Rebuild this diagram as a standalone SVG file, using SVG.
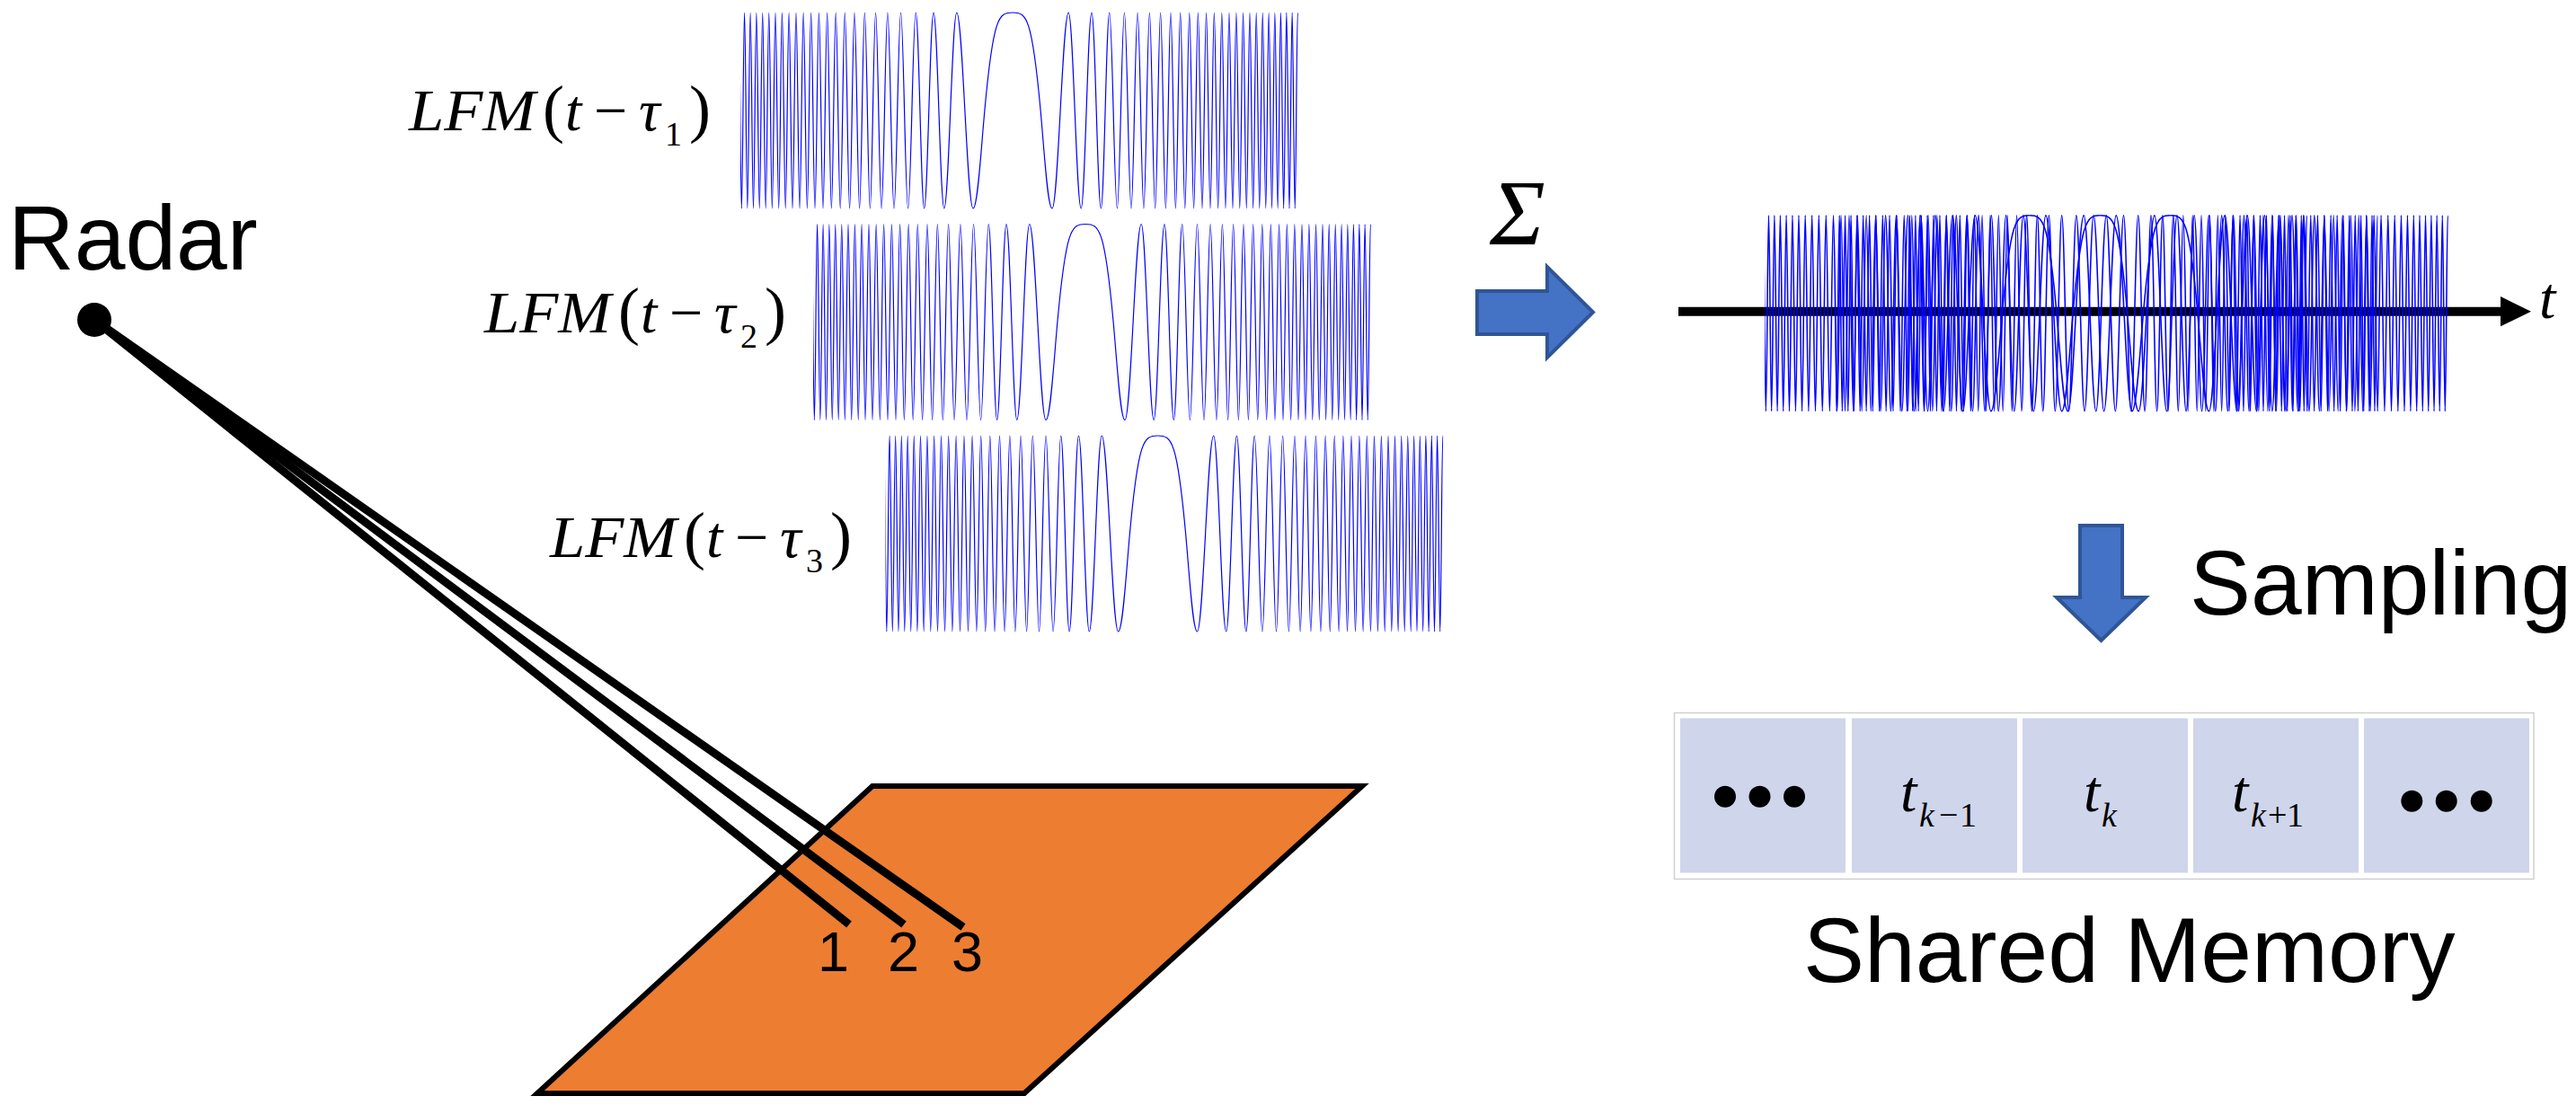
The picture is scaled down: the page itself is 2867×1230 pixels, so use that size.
<svg xmlns="http://www.w3.org/2000/svg" xmlns:xlink="http://www.w3.org/1999/xlink" width="2867" height="1230" viewBox="0 0 2867 1230">
<style>
.sans{font-family:"Liberation Sans",Arial,sans-serif;fill:#000}
.big{font-size:102px}
.dig{font-size:63px}
.it{font-family:"Liberation Serif","Times New Roman",serif;font-style:italic;font-size:66px;fill:#000}
.up{font-family:"Liberation Serif","Times New Roman",serif;font-size:66px;fill:#000}
.par{font-family:"Liberation Serif","Times New Roman",serif;font-size:72px;fill:#000}
.sub{font-family:"Liberation Serif","Times New Roman",serif;font-size:38px;fill:#000}
.tm{font-family:"Liberation Serif","Times New Roman",serif;font-style:italic;font-size:66px;fill:#000}
.tsi{font-family:"Liberation Serif","Times New Roman",serif;font-style:italic;font-size:38px;fill:#000}
.tsu{font-family:"Liberation Serif","Times New Roman",serif;font-size:38px;fill:#000}
.wave{fill:none;stroke:#0000ff}
.w1{stroke-width:1.2}
.w2{stroke-width:1.6}
.blk{fill:#4472C4;stroke:#2F5597;stroke-width:4;stroke-linejoin:miter}
.cell{fill:#CFD5EA}
.beam{stroke:#000;stroke-width:9;stroke-linecap:butt;fill:none}
</style>
<defs>
<clipPath id="cc" clipPathUnits="userSpaceOnUse"><rect x="-303" y="-120" width="621" height="240"/></clipPath>
<path id="half" class="wave" d="M0,-109 C15.5,-109 21.6,-104.5 31.11,0 C35.4,47.3 39,109 44,109 C50.64,109 55.59,-109 62.23,-109 C67.32,-109 71.12,109 76.21,109 C80.5,109 83.71,-109 88,-109 C91.78,-109 94.61,109 98.39,109 C101.81,109 104.36,-109 107.78,-109 C110.92,-109 113.27,109 116.41,109 C119.34,109 121.52,-109 124.45,-109 C127.2,-109 129.25,109 132,109 C134.6,109 136.54,-109 139.14,-109 C141.61,-109 143.46,109 145.93,109 C148.29,109 150.06,-109 152.42,-109 C154.68,-109 156.38,109 158.64,109 C160.82,109 162.45,-109 164.63,-109 C166.73,-109 168.31,109 170.41,109 C172.44,109 173.97,-109 176,-109 C177.97,-109 179.45,109 181.42,109 C183.33,109 184.77,-109 186.68,-109 C188.54,-109 189.93,109 191.79,109 C193.6,109 194.96,-109 196.77,-109 C198.54,-109 199.86,109 201.63,109 C203.36,109 204.65,-109 206.38,-109 C208.07,-109 209.33,109 211.02,109 C212.67,109 213.91,-109 215.56,-109 C217.18,-109 218.38,109 220,109 C221.59,109 222.77,-109 224.36,-109 C225.91,-109 227.08,109 228.63,109 C230.16,109 231.3,-109 232.83,-109 C234.33,-109 235.45,109 236.95,109 C238.42,109 239.53,-109 241,-109 C242.45,-109 243.53,109 244.98,109 C246.41,109 247.47,-109 248.9,-109 C250.31,-109 251.35,109 252.76,109 C254.14,109 255.18,-109 256.56,-109 C257.93,-109 258.94,109 260.31,109 C261.65,109 262.66,-109 264,-109 C265.32,-109 266.32,109 267.64,109 C268.95,109 269.92,-109 271.23,-109 C272.52,-109 273.49,109 274.78,109 C276.05,109 277.01,-109 278.28,-109 C279.54,-109 280.48,109 281.74,109 C282.98,109 283.91,-109 285.15,-109 C286.38,-109 287.3,109 288.53,109 C289.74,109 290.65,-109 291.86,-109 C293.06,-109 293.96,109 295.16,109 C296.35,109 297.23,-109 298.42,-109 C299.6,-109 300.47,109 301.65,109 C302.81,109 303.69,-109 304.85,-109 C306,-109 306.85,109 308,109 C309.14,109 309.99,-109 311.13,-109 C312.26,-109 313.1,109 314.23,109 C315.35,109 316.18,-109 317.3,-109"/>
<g id="chirp"><g clip-path="url(#cc)"><use xlink:href="#half" href="#half"/><use xlink:href="#half" href="#half" transform="scale(-1,1)"/></g></g>
</defs>
<rect x="0" y="0" width="2867" height="1230" fill="#fff"/>

<g id="target">
<polygon points="971,875 1516,875 1140,1217 598,1217" fill="#ED7D31" stroke="#000" stroke-width="6" stroke-linejoin="miter"/>
</g>

<g id="connectors">
<line class="beam" x1="105" y1="356" x2="945" y2="1029"/>
<line class="beam" x1="105" y1="356" x2="1006" y2="1029"/>
<line class="beam" x1="105" y1="356" x2="1072" y2="1032"/>
</g>

<g id="radar">
<circle cx="105" cy="356" r="19" fill="#000"/>
<text class="sans big" x="9" y="300">Radar</text>
</g>

<g id="target-labels">
<text class="sans dig" x="910" y="1081">1</text>
<text class="sans dig" x="988" y="1081">2</text>
<text class="sans dig" x="1059" y="1081">3</text>
</g>

<g id="lfm1">
<g transform="translate(456,145)">
<text class="it" x="-1" y="0" textLength="141" lengthAdjust="spacingAndGlyphs">LFM</text>
<text class="par" x="148" y="0">(</text>
<text class="it" x="173" y="0">t</text>
<text class="up" x="205" y="0">−</text>
<text class="it" x="255" y="0">τ</text>
<text class="sub" x="284" y="17">1</text>
<text class="par" x="311" y="0">)</text>
</g>
<use class="w1" xlink:href="#chirp" href="#chirp" transform="translate(1127,123)"/>
</g>

<g id="lfm2">
<g transform="translate(540,370)">
<text class="it" x="-1" y="0" textLength="141" lengthAdjust="spacingAndGlyphs">LFM</text>
<text class="par" x="148" y="0">(</text>
<text class="it" x="173" y="0">t</text>
<text class="up" x="205" y="0">−</text>
<text class="it" x="255" y="0">τ</text>
<text class="sub" x="284" y="17">2</text>
<text class="par" x="311" y="0">)</text>
</g>
<use class="w1" xlink:href="#chirp" href="#chirp" transform="translate(1208,358.5)"/>
</g>

<g id="lfm3">
<g transform="translate(613,620)">
<text class="it" x="-1" y="0" textLength="141" lengthAdjust="spacingAndGlyphs">LFM</text>
<text class="par" x="148" y="0">(</text>
<text class="it" x="173" y="0">t</text>
<text class="up" x="205" y="0">−</text>
<text class="it" x="255" y="0">τ</text>
<text class="sub" x="284" y="17">3</text>
<text class="par" x="311" y="0">)</text>
</g>
<use class="w1" xlink:href="#chirp" href="#chirp" transform="translate(1288.5,594)"/>
</g>

<g id="sum-arrow">
<text class="it" style="font-size:104px" x="1658" y="272">Σ</text>
<polygon class="blk" points="1644,324 1722,324 1722,297 1773,347.5 1722,398 1722,372 1644,372"/>
</g>

<g id="sum-signal">
<line x1="1868" y1="346.7" x2="2786" y2="346.7" stroke="#000" stroke-width="10"/>
<polygon points="2783,330 2817,346.7 2783,363.3" fill="#000"/>
<g class="w2">
<use xlink:href="#chirp" href="#chirp" transform="translate(2258.7,348.7) scale(0.9725,1)"/>
<use xlink:href="#chirp" href="#chirp" transform="translate(2337.4,348.7) scale(0.9725,1)"/>
<use xlink:href="#chirp" href="#chirp" transform="translate(2415.7,348.7) scale(0.9725,1)"/>
</g>
<text class="it" x="2826" y="354">t</text>
</g>

<g id="sampling">
<polygon class="blk" points="2315,585 2362,585 2362,665 2388,665 2338.5,713 2289,665 2315,665"/>
<text class="sans big" x="2437" y="684">Sampling</text>
</g>

<g id="memory">
<rect x="1863.5" y="793.5" width="956.5" height="185" fill="#fff" stroke="#D0D0D0" stroke-width="1.5"/>
<rect class="cell" x="1870" y="799.5" width="184" height="172"/>
<rect class="cell" x="2061" y="799.5" width="184" height="172"/>
<rect class="cell" x="2251" y="799.5" width="184" height="172"/>
<rect class="cell" x="2441" y="799.5" width="184" height="172"/>
<rect class="cell" x="2631" y="799.5" width="184" height="172"/>
<circle cx="1920" cy="886.7" r="12"/>
<circle cx="1958.5" cy="886.7" r="12"/>
<circle cx="1997" cy="886.7" r="12"/>
<text class="tm" x="2115" y="903">t</text>
<text class="tsi" x="2136" y="920">k</text>
<text class="tsu" x="2158" y="920">−</text>
<text class="tsu" x="2181" y="920">1</text>
<text class="tm" x="2319" y="903">t</text>
<text class="tsi" x="2339" y="920">k</text>
<text class="tm" x="2484" y="903">t</text>
<text class="tsi" x="2505" y="920">k</text>
<text class="tsu" x="2524" y="920">+</text>
<text class="tsu" x="2545" y="920">1</text>
<circle cx="2684.3" cy="891.7" r="12"/>
<circle cx="2722.7" cy="891.7" r="12"/>
<circle cx="2761.7" cy="891.7" r="12"/>
<text class="sans big" x="2007" y="1093">Shared Memory</text>
</g>
</svg>
